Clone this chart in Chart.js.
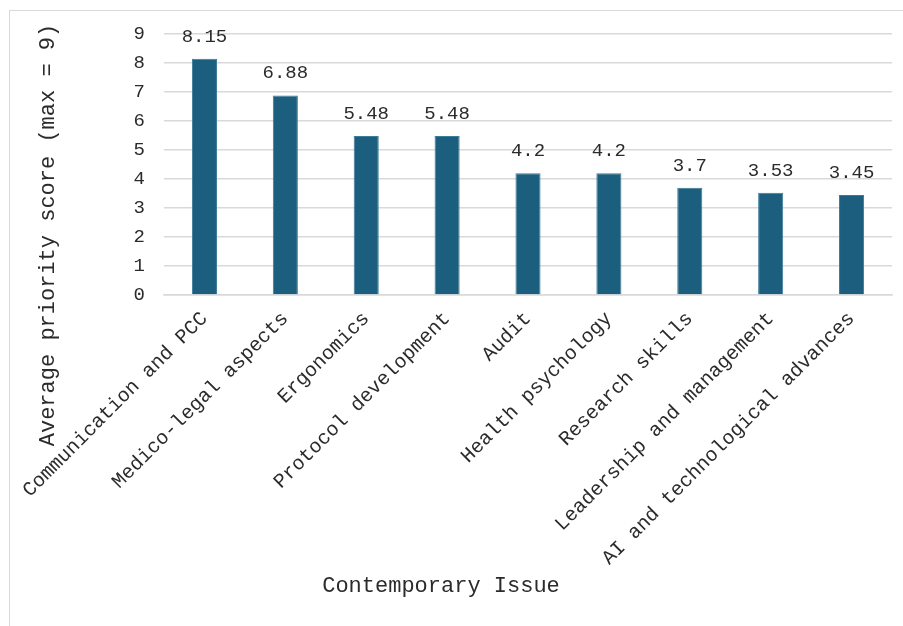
<!DOCTYPE html>
<html>
<head>
<meta charset="utf-8">
<script src="https://cdn.jsdelivr.net/npm/chart.js@4"></script>
<style>
  body { margin: 0; background: #fff; overflow: hidden; }
  #wrap { position: absolute; left: 0; top: 0; width: 903px; height: 626px; }
  #frame { position: absolute; left: 9px; top: 10px; width: 1000px; height: 1000px;
           border: 1.5px solid #d9d9d9; pointer-events: none; }
</style>
</head>
<body>
<div id="wrap"><canvas id="chart"></canvas></div>
<div id="frame"></div>
<script>
const issues = ['Communication and PCC', 'Medico-legal aspects', 'Ergonomics', 'Protocol development',
  'Audit', 'Health psychology', 'Research skills', 'Leadership and management', 'AI and technological advances'];
const scores = [8.15, 6.88, 5.48, 5.48, 4.2, 4.2, 3.7, 3.53, 3.45];
const yTicks = [0, 1, 2, 3, 4, 5, 6, 7, 8, 9];
const xTitle = 'Contemporary Issue';
const yTitle = 'Average priority score (max = 9)';

const FONT = "'Liberation Mono', monospace";
const TEXT = '#2b2b2b';

// value labels above bars + axis titles (placed like the original, not centred on the plot)
const extras = {
  id: 'extras',
  afterDatasetsDraw(chart) {
    const ctx = chart.ctx;
    const meta = chart.getDatasetMeta(0);
    ctx.save();
    ctx.font = '19px ' + FONT;
    ctx.fillStyle = TEXT;
    ctx.textAlign = 'center';
    ctx.textBaseline = 'alphabetic';
    meta.data.forEach((bar, i) => {
      ctx.fillText(String(scores[i]), bar.x, bar.y - 17);
    });

    ctx.font = '22px ' + FONT;
    ctx.textBaseline = 'middle';
    ctx.fillText(xTitle, 441, 586);
    ctx.translate(48, 235);
    ctx.rotate(-Math.PI / 2);
    ctx.fillText(yTitle, 0, 0);
    ctx.restore();
  }
};

new Chart(document.getElementById('chart'), {
  type: 'bar',
  data: {
    labels: issues,
    datasets: [{
      data: scores,
      backgroundColor: '#1b5e7e',
      borderColor: '#3b7a98',
      borderWidth: 1,
      categoryPercentage: 1,
      barPercentage: 0.31
    }]
  },
  options: {
    responsive: true,
    maintainAspectRatio: false,
    animation: false,
    layout: { padding: { left: 35, right: 11, top: 34, bottom: 0 } },
    plugins: { legend: { display: false }, tooltip: { enabled: false } },
    scales: {
      x: {
        afterFit: scale => { scale.height = 331; },
        grid: { display: false, drawTicks: false },
        border: { color: '#d9d9d9', width: 1.5 },
        ticks: { color: TEXT, font: { family: FONT, size: 20 }, minRotation: 45, maxRotation: 45, padding: 12 }
      },
      y: {
        min: 0,
        max: 9,
        afterBuildTicks: scale => { scale.ticks = yTicks.map(v => ({ value: v })); },
        afterFit: scale => { scale.width = 129; },
        grid: { color: '#d9d9d9', lineWidth: 1.5, drawTicks: false },
        border: { display: false },
        ticks: { color: TEXT, font: { family: FONT, size: 19 }, padding: 19 }
      }
    }
  },
  plugins: [extras]
});
</script>
</body>
</html>
